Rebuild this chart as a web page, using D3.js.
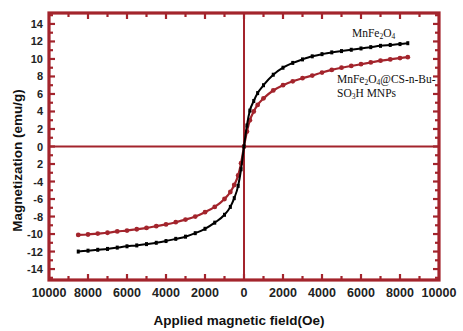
<!DOCTYPE html>
<html>
<head>
<meta charset="utf-8">
<script src="https://cdn.jsdelivr.net/npm/d3@7"></script>
<style>
  body { margin: 0; background: #fff; }
  text { font-family: "Liberation Sans", Arial, sans-serif; }
</style>
</head>
<body>
<div id="chart"></div>
<script>
// applied field (Oe)
const field = [-8500, -8000, -7500, -7000, -6500, -6000, -5500, -5000, -4500, -4000,
  -3500, -3000, -2500, -2000, -1500, -1000, -700, -500, -300, -150, 0,
  150, 300, 500, 700, 1000, 1500, 2000, 2500, 3000, 3500, 4000, 4500, 5000,
  5500, 6000, 6500, 7000, 7500, 8000, 8400];
// MnFe2O4 (black)
const mBare = [-12.0, -11.9, -11.8, -11.7, -11.55, -11.4, -11.3, -11.15, -11.0, -10.8,
  -10.55, -10.3, -9.9, -9.4, -8.7, -7.8, -6.9, -5.9, -4.5, -2.6, 0,
  2.4, 4.1, 5.2, 6.1, 7.0, 8.2, 9.0, 9.55, 9.95, 10.3, 10.55, 10.75, 10.9,
  11.05, 11.2, 11.35, 11.5, 11.6, 11.7, 11.8];
// MnFe2O4@CS-n-Bu-SO3H MNPs (red)
const mCoated = [-10.1, -10.05, -9.95, -9.85, -9.7, -9.6, -9.45, -9.3, -9.1, -8.9,
  -8.65, -8.35, -8.0, -7.5, -6.9, -6.0, -5.2, -4.4, -3.3, -1.9, 0,
  1.7, 3.0, 4.0, 4.75, 5.5, 6.4, 7.0, 7.45, 7.8, 8.1, 8.45, 8.75, 9.0,
  9.2, 9.4, 9.6, 9.8, 9.95, 10.1, 10.2];

const xTicks = [-10000, -8000, -6000, -4000, -2000, 0, 2000, 4000, 6000, 8000, 10000];
const xTickLabels = ["10000", "8000", "6000", "4000", "2000", "0", "2000", "4000", "6000", "8000", "10000"];
const yTicks = [14, 12, 10, 8, 6, 4, 2, 0, -2, -4, -6, -8, -10, -12, -14];
const yTickLabels = ["14", "12", "10", "8", "6", "4", "2", "0", "2", "-4", "-6", "-8", "-10", "-12", "-14"];

const W = 463, H = 331;
const margin = { top: 13, right: 24, bottom: 51, left: 49 };
const width = W - margin.left - margin.right;
const height = H - margin.top - margin.bottom;
const red = "#a3242c";

const svg = d3.select("#chart").append("svg")
  .attr("width", W).attr("height", H)
  .append("g")
  .attr("transform", "translate(" + margin.left + "," + margin.top + ")");

const x = d3.scaleLinear().domain([-10000, 10000]).range([0, width]);
const y = d3.scaleLinear().domain([-15.25, 15.25]).range([height, 0]);

// minor/major ticks on all four sides, pointing inward
const xMinor = d3.range(-9000, 10000, 1000);
const yMinor = d3.range(-15, 16, 1);
xMinor.forEach(v => {
  const len = v % 2000 === 0 ? 6 : 4;
  svg.append("line").attr("x1", x(v)).attr("x2", x(v)).attr("y1", height).attr("y2", height - len)
    .attr("stroke", red).attr("stroke-width", 2.2);
  svg.append("line").attr("x1", x(v)).attr("x2", x(v)).attr("y1", 0).attr("y2", len)
    .attr("stroke", red).attr("stroke-width", 2.2);
});
yMinor.forEach(v => {
  const len = v % 2 === 0 ? 6 : 4;
  svg.append("line").attr("x1", 0).attr("x2", len).attr("y1", y(v)).attr("y2", y(v))
    .attr("stroke", red).attr("stroke-width", 2.2);
  svg.append("line").attr("x1", width).attr("x2", width - len).attr("y1", y(v)).attr("y2", y(v))
    .attr("stroke", red).attr("stroke-width", 2.2);
});

// frame
svg.append("rect").attr("width", width).attr("height", height)
  .attr("fill", "none").attr("stroke", red).attr("stroke-width", 3.2);

// zero lines
svg.append("line").attr("x1", 0).attr("x2", width).attr("y1", y(0)).attr("y2", y(0))
  .attr("stroke", red).attr("stroke-width", 2);
svg.append("line").attr("x1", x(0)).attr("x2", x(0)).attr("y1", 0).attr("y2", height)
  .attr("stroke", red).attr("stroke-width", 2);

// tick labels
svg.selectAll(".xl").data(xTicks).enter().append("text")
  .attr("x", d => x(d)).attr("y", height + 17)
  .attr("text-anchor", "middle").attr("font-size", 12.5).attr("font-weight", "bold")
  .attr("fill", "#222")
  .text((d, i) => xTickLabels[i]);
svg.selectAll(".yl").data(yTicks).enter().append("text")
  .attr("x", -6).attr("y", d => y(d) + 4)
  .attr("text-anchor", "end").attr("font-size", 11).attr("font-weight", "bold")
  .attr("fill", "#222")
  .text((d, i) => yTickLabels[i]);

// axis titles
svg.append("text")
  .attr("x", width / 2 - 5).attr("y", height + 45)
  .attr("text-anchor", "middle").attr("font-size", 13.5).attr("font-weight", "bold")
  .attr("fill", "#111")
  .text("Applied magnetic field(Oe)");
svg.append("text")
  .attr("transform", "translate(" + (-27) + "," + (height / 2 + 14) + ") rotate(-90)")
  .attr("text-anchor", "middle").attr("font-size", 13.5).attr("font-weight", "bold")
  .attr("fill", "#111")
  .text("Magnetization (emu/g)");

// curves
const pts = (m) => field.map((f, i) => [f, m[i]]);
const line = d3.line().x(d => x(d[0])).y(d => y(d[1])).curve(d3.curveMonotoneX);

svg.append("path").datum(pts(mCoated))
  .attr("fill", "none").attr("stroke", red).attr("stroke-width", 2.2).attr("d", line);
svg.selectAll(".rd").data(pts(mCoated)).enter().append("circle")
  .attr("cx", d => x(d[0])).attr("cy", d => y(d[1])).attr("r", 2.4).attr("fill", red);

svg.append("path").datum(pts(mBare))
  .attr("fill", "none").attr("stroke", "#000").attr("stroke-width", 2).attr("d", line);
svg.selectAll(".bd").data(pts(mBare)).enter().append("rect")
  .attr("x", d => x(d[0]) - 1.5).attr("y", d => y(d[1]) - 2)
  .attr("width", 3).attr("height", 4).attr("fill", "#000");

// annotations
const ann = svg.append("g").attr("font-size", 11.5).attr("fill", "#111");
function formula(parts, xx, yy) {
  const el = ann.append("text").attr("x", xx).attr("y", yy)
    .style("font-family", "'Liberation Serif', 'Times New Roman', serif");
  parts.forEach(p => {
    if (p[1]) el.append("tspan").attr("font-size", 7.5).attr("dy", 1.5).text(p[0]);
    else el.append("tspan").attr("dy", p[2] || 0).text(p[0]);
  });
  return el;
}
formula([["MnFe"], ["2", true], ["O", false, -1.5], ["4", true]], 303, 24);
formula([["MnFe"], ["2", true], ["O", false, -1.5], ["4", true], ["@CS-n-Bu-", false, -1.5]], 288, 70);
formula([["SO"], ["3", true], ["H MNPs", false, -1.5]], 288, 84);
</script>
</body>
</html>
